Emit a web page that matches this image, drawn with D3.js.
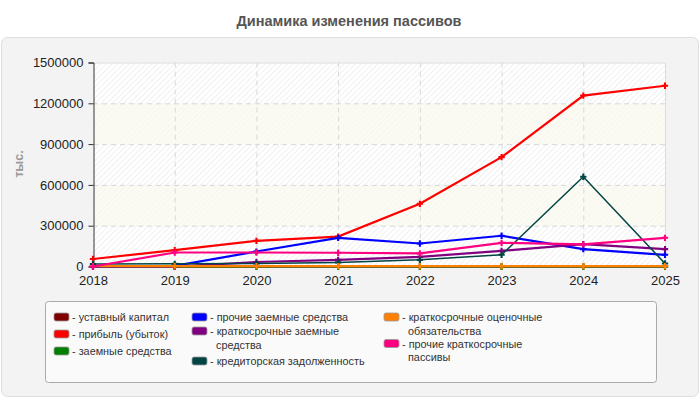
<!DOCTYPE html>
<html><head><meta charset="utf-8">
<script src="https://cdn.jsdelivr.net/npm/d3@7"></script>
<style>body{margin:0;background:#fff;}svg{display:block;font-family:"Liberation Sans",Arial,sans-serif;}</style>
</head><body>
<svg id="c" width="700" height="400"></svg>
<script>
const years = [2018, 2019, 2020, 2021, 2022, 2023, 2024, 2025];
const yTicks = [0, 300000, 600000, 900000, 1200000, 1500000];
const seriesNames = ["уставный капитал", "прибыль (убыток)", "заемные средства", "прочие заемные средства", "краткосрочные заемные средства", "кредиторская задолженность", "краткосрочные оценочные обязательства", "прочие краткосрочные пассивы"];
const seriesColors = ["#800000", "#ff0000", "#008000", "#0000ff", "#800080", "#004444", "#ff8000", "#ff0080"];
const ustavny = [10, 10, 10, 10, 10, 10, 10, 10];
const pribyl = [55000, 120000, 189000, 220000, 461000, 804000, 1257000, 1329000];
const zaemnye = [0, 0, 0, 0, 0, 0, 0, 0];
const prochieZaemnye = [0, 5000, 110000, 211000, 169000, 226000, 128000, 86000];
const kratkoZaemnye = [0, 0, 33000, 49000, 71000, 115000, 165000, 128000];
const kreditorskaya = [18000, 20000, 22000, 30000, 49000, 86000, 660000, 22000];
const ocenochnye = [3000, 3000, 3000, 3000, 3000, 3000, 3000, 3000];
const prochiePassivy = [0, 103000, 103000, 101000, 96000, 174000, 162000, 211000];
const seriesValues = [ustavny, pribyl, zaemnye, prochieZaemnye, kratkoZaemnye, kreditorskaya, ocenochnye, prochiePassivy];

const svg = d3.select("#c");
const defs = svg.append("defs");
const pat = defs.append("pattern").attr("id","hatch").attr("patternUnits","userSpaceOnUse")
  .attr("width",4).attr("height",4).attr("patternTransform","rotate(45)");
pat.append("rect").attr("width",4).attr("height",4).attr("fill","#ffffff");
pat.append("line").attr("x1",0).attr("y1",0).attr("x2",0).attr("y2",4).attr("stroke","#e6e6e6").attr("stroke-width",1.2);
const pat2 = defs.append("pattern").attr("id","hatch2").attr("patternUnits","userSpaceOnUse")
  .attr("width",4).attr("height",4).attr("patternTransform","rotate(45)");
pat2.append("rect").attr("width",4).attr("height",4).attr("fill","#fbfbf3");
pat2.append("line").attr("x1",0).attr("y1",0).attr("x2",0).attr("y2",4).attr("stroke","#f3f3ec").attr("stroke-width",1);

// panel
svg.append("rect").attr("x",1.5).attr("y",37.5).attr("width",697).attr("height",359).attr("rx",6)
  .attr("fill","#f3f3f3").attr("stroke","#dedede");

svg.append("text").attr("x",349).attr("y",25.5).attr("text-anchor","middle")
  .attr("font-weight","bold").attr("font-size",14.5).attr("fill","#555").text("Динамика изменения пассивов");

const L = 93, R = 665, T = 62.5, B = 266.5;
const x = d3.scalePoint().domain(years).range([L, R]);
const y = d3.scaleLinear().domain([0, 1500000]).range([B, T]);

// bands
for (let i = 0; i < yTicks.length - 1; i++) {
  svg.append("rect").attr("x",L).attr("y",y(yTicks[i+1])).attr("width",R-L)
    .attr("height",y(yTicks[i])-y(yTicks[i+1])).attr("fill", i%2===0 ? "url(#hatch)" : "url(#hatch2)");
}
// grid
svg.append("g").selectAll("line.h").data(yTicks.slice(1,-1)).join("line")
  .attr("x1",L).attr("x2",R).attr("y1",d=>y(d)+0.5).attr("y2",d=>y(d)+0.5)
  .attr("stroke","#d8d8d8").attr("stroke-dasharray","5,4");
svg.append("g").selectAll("line.v").data(years.slice(1,-1)).join("line")
  .attr("x1",d=>x(d)+0.5).attr("x2",d=>x(d)+0.5).attr("y1",T).attr("y2",B)
  .attr("stroke","#d8d8d8").attr("stroke-dasharray","5,4");
// plot border
svg.append("path").attr("d",`M${L},${T+0.5}H${R+0.5}V${B}`).attr("fill","none").attr("stroke","#dcdcdc");

// axes
const ya = svg.append("g").attr("transform",`translate(${L+0.5},0)`)
  .call(d3.axisLeft(y).tickValues(yTicks).tickSize(5).tickPadding(5).tickFormat(d3.format("d")));
ya.select(".domain").attr("stroke","#333");
ya.selectAll(".tick line").attr("stroke","#333");
ya.selectAll("text").attr("font-size",13).attr("fill","#222").attr("font-family","Liberation Sans, Arial, sans-serif");

const xa = svg.append("g").attr("transform",`translate(0,${B+0.5})`)
  .call(d3.axisBottom(x).tickSize(0).tickPadding(6));
xa.select(".domain").attr("stroke","#333").attr("d",`M${L},0H${R}`);
xa.selectAll("text").attr("font-size",13).attr("fill","#222").attr("font-family","Liberation Sans, Arial, sans-serif").attr("dy","0.9em");

svg.append("text").attr("transform","translate(23,164) rotate(-90)").attr("text-anchor","middle")
  .attr("font-size",12.5).attr("font-weight","bold").attr("fill","#999").text("тыс.");

// lines
const line = d3.line().x((d,i)=>x(years[i])).y(d=>y(d));
seriesValues.forEach((vals, si) => {
  const w = si === 5 ? 1.5 : 2.2;
  svg.append("path").datum(vals).attr("d",line).attr("fill","none")
    .attr("stroke",seriesColors[si]).attr("stroke-width",w);
  svg.append("g").selectAll("path").data(vals).join("path")
    .attr("transform",(d,i)=>`translate(${x(years[i])},${y(d)})`)
    .attr("d",d3.symbol(d3.symbolCross, 22)).attr("fill",seriesColors[si]);
});

// legend
svg.append("rect").attr("x",45.5).attr("y",301.5).attr("width",611).attr("height",81).attr("rx",3)
  .attr("fill","#fafafa").attr("stroke","#aaa");
const legendItems = [
  {col:0, y:317, lines:["- уставный капитал"]},
  {col:0, y:334, lines:["- прибыль (убыток)"]},
  {col:0, y:351, lines:["- заемные средства"]},
  {col:1, y:317, lines:["- прочие заемные средства"]},
  {col:1, y:331, lines:["- краткосрочные заемные","средства"]},
  {col:1, y:361, lines:["- кредиторская задолженность"]},
  {col:2, y:317, lines:["- краткосрочные оценочные","обязательства"]},
  {col:2, y:343.5, lines:["- прочие краткосрочные","пассивы"]}
];
const colX = [54, 192, 384];
legendItems.forEach((it, i) => {
  const g = svg.append("g");
  g.append("rect").attr("x",colX[it.col]).attr("y",it.y-4).attr("width",15).attr("height",8).attr("rx",2)
    .attr("fill",seriesColors[i]).attr("stroke","#999").attr("stroke-width",0.8);
  it.lines.forEach((t, j) => {
    g.append("text")
      .attr("transform",`translate(${colX[it.col] + (j===0 ? 18 : 24)},${it.y + j*13.4}) scale(0.92,1)`)
      .attr("dy","0.35em")
      .attr("font-size",11.8).attr("fill","#333").text(t);
  });
});
</script>
</body></html>
